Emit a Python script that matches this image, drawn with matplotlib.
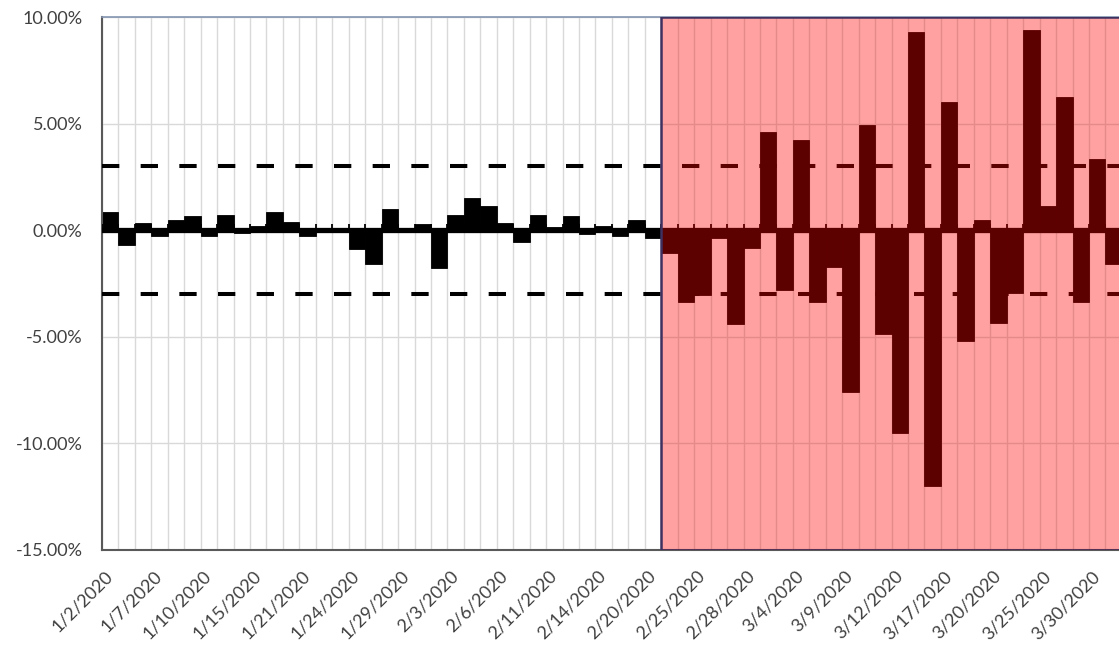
import matplotlib
matplotlib.use('Agg')
import matplotlib.pyplot as plt
import matplotlib.ticker as mticker
import numpy as np

# trading days, Jan-Mar 2020
dates = ['1/2/2020', '1/3/2020', '1/6/2020', '1/7/2020', '1/8/2020', '1/9/2020',
         '1/10/2020', '1/13/2020', '1/14/2020', '1/15/2020', '1/16/2020', '1/17/2020',
         '1/21/2020', '1/22/2020', '1/23/2020', '1/24/2020', '1/27/2020', '1/28/2020',
         '1/29/2020', '1/30/2020', '1/31/2020',
         '2/3/2020', '2/4/2020', '2/5/2020', '2/6/2020', '2/7/2020', '2/10/2020',
         '2/11/2020', '2/12/2020', '2/13/2020', '2/14/2020', '2/18/2020', '2/19/2020',
         '2/20/2020', '2/21/2020', '2/24/2020', '2/25/2020', '2/26/2020', '2/27/2020',
         '2/28/2020',
         '3/2/2020', '3/3/2020', '3/4/2020', '3/5/2020', '3/6/2020', '3/9/2020',
         '3/10/2020', '3/11/2020', '3/12/2020', '3/13/2020', '3/16/2020', '3/17/2020',
         '3/18/2020', '3/19/2020', '3/20/2020', '3/23/2020', '3/24/2020', '3/25/2020',
         '3/26/2020', '3/27/2020', '3/30/2020', '3/31/2020']

# daily returns in %
returns = [0.84, -0.71, 0.35, -0.28, 0.49, 0.67,
           -0.29, 0.70, -0.15, 0.19, 0.84, 0.39,
           -0.27, 0.03, 0.11, -0.90, -1.57, 1.01,
           -0.09, 0.31, -1.77,
           0.73, 1.50, 1.13, 0.33, -0.54, 0.73,
           0.17, 0.65, -0.16, 0.18, -0.29, 0.47,
           -0.38, -1.05, -3.35, -3.03, -0.38, -4.42,
           -0.82,
           4.60, -2.81, 4.22, -3.39, -1.71, -7.60,
           4.94, -4.89, -9.51, 9.29, -11.98, 6.00,
           -5.18, 0.47, -4.34, -2.93, 9.38, 1.15,
           6.24, -3.37, 3.35, -1.60]

band = 3.0                 # +/- threshold lines
shade_start = '2/21/2020'  # start of the shaded period
yticks = [10, 5, 0, -5, -10, -15]

plt.rcParams['font.family'] = ['Lato', 'DejaVu Sans']

fig = plt.figure(figsize=(11.19, 6.52), dpi=100)
n = len(dates)
px = 16.45 / 1119.0
ax = fig.add_axes([102 / 1119.0, 102 / 652.0, n * px, 533 / 652.0])

x = np.arange(n)
ax.set_xlim(-0.5, n - 0.5)
ax.set_ylim(-15, 10)

# grid
for b in np.arange(n + 1) - 0.5:
    ax.axvline(b, color='#d9d9d9', lw=1.0, zorder=0)
for t in yticks:
    ax.axhline(t, color='#d9d9d9', lw=1.0, zorder=0)

ax.bar(x, returns, width=1.0, color='black', edgecolor='black', lw=0.6, zorder=2)

# zero axis with small tick marks
ax.axhline(0, color='black', lw=3.8, zorder=3)
ax.vlines(np.arange(n + 1) - 0.5, 0, 0.28, color='black', lw=1.3, zorder=3)

for lvl in (band, -band):
    ax.axhline(lvl, color='black', lw=2.9, ls=(0, (4.3, 5.3)), zorder=3)

i0 = dates.index(shade_start) - 0.5
ax.axvspan(i0, n - 0.5, facecolor=(1, 0, 0, 0.37), edgecolor='none', zorder=4)
ax.axvspan(i0, n - 0.5, facecolor='none', edgecolor='#3e3160', lw=1.8, zorder=5)

ax.set_yticks(yticks)
ax.yaxis.set_major_formatter(mticker.FuncFormatter(lambda v, p: '%.2f%%' % v))
ax.set_xticks(x[::3])
ax.set_xticklabels(dates[::3], rotation=45, ha='right', va='center',
                   rotation_mode='anchor')
ax.tick_params(axis='both', length=0, labelsize=13, colors='#404040')
ax.tick_params(axis='x', pad=17)
ax.tick_params(axis='y', pad=14)

ax.spines['left'].set_color('#595959')
ax.spines['left'].set_linewidth(1.5)
ax.spines['bottom'].set_color('#595959')
ax.spines['bottom'].set_linewidth(1.5)
ax.spines['top'].set_color('#8393b0')
ax.spines['top'].set_linewidth(1.2)
ax.spines['right'].set_visible(False)

fig.savefig('out.png', dpi=100)
